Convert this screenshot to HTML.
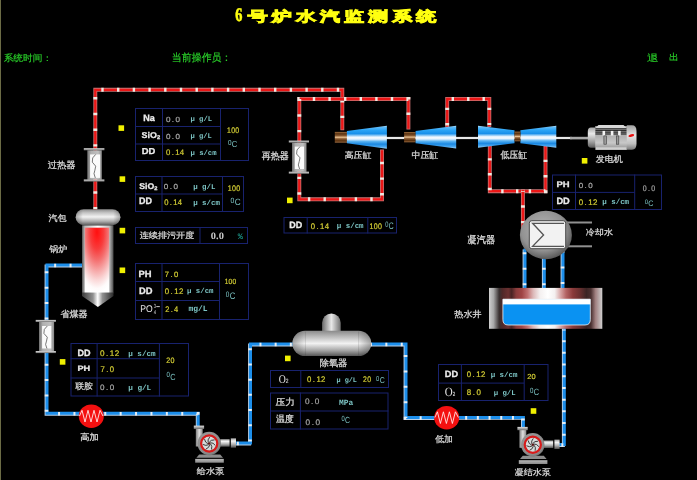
<!DOCTYPE html>
<html><head><meta charset="utf-8"><title>6号炉水汽监测系统</title>
<style>
html,body{margin:0;padding:0;background:#000;width:697px;height:480px;overflow:hidden}
svg{display:block}
text{font-family:'Liberation Sans', sans-serif}
.lab{fill:#d4d4d4;font-size:10px}
.hdr{fill:#22c022;font-size:10px}
.b{fill:#ececec;font-weight:bold;font-size:9.5px}
.m{font-family:'Liberation Mono', monospace;font-size:8.6px}
.g{fill:#9c9c9c}
.y{fill:#e0e030}
.c{fill:#78c4c4}
</style></head><body>
<svg width="697" height="480" viewBox="0 0 697 480" style="will-change:transform;text-rendering:geometricPrecision">
<defs>
<linearGradient id="metalV" x1="0" y1="0" x2="0" y2="1">
 <stop offset="0" stop-color="#a0a0a0"/><stop offset="0.3" stop-color="#f4f4f4"/><stop offset="0.65" stop-color="#b0b0b0"/><stop offset="1" stop-color="#505050"/>
</linearGradient>
<linearGradient id="metalH" x1="0" y1="0" x2="1" y2="0">
 <stop offset="0" stop-color="#6a6a6a"/><stop offset="0.45" stop-color="#f4f4f4"/><stop offset="1" stop-color="#707070"/>
</linearGradient>
<linearGradient id="exH" x1="0" y1="0" x2="1" y2="0">
 <stop offset="0" stop-color="#7a7a7a"/><stop offset="0.45" stop-color="#ffffff"/><stop offset="1" stop-color="#8a8a8a"/>
</linearGradient>
<linearGradient id="frameH" x1="0" y1="0" x2="1" y2="0">
 <stop offset="0" stop-color="#707070"/><stop offset="0.25" stop-color="#b0b0b0"/><stop offset="0.75" stop-color="#c0c0c0"/><stop offset="1" stop-color="#8a8a8a"/>
</linearGradient>
<linearGradient id="neckH" x1="0" y1="0" x2="1" y2="0">
 <stop offset="0" stop-color="#808080"/><stop offset="0.5" stop-color="#e0e0e0"/><stop offset="1" stop-color="#8a8a8a"/>
</linearGradient>
<linearGradient id="baseV" x1="0" y1="0" x2="0" y2="1">
 <stop offset="0" stop-color="#b8b8b8"/><stop offset="1" stop-color="#8a8a8a"/>
</linearGradient>
<linearGradient id="deaV" x1="0" y1="0" x2="0" y2="1">
 <stop offset="0" stop-color="#8a8a8a"/><stop offset="0.2" stop-color="#b4b4b4"/><stop offset="0.5" stop-color="#f2f2f2"/><stop offset="0.78" stop-color="#a4a4a4"/><stop offset="1" stop-color="#555555"/>
</linearGradient>
<linearGradient id="endsH" x1="0" y1="0" x2="1" y2="0">
 <stop offset="0" stop-color="#000" stop-opacity="0.3"/><stop offset="0.16" stop-color="#000" stop-opacity="0"/><stop offset="0.84" stop-color="#000" stop-opacity="0"/><stop offset="1" stop-color="#000" stop-opacity="0.3"/>
</linearGradient>
<linearGradient id="domeH" x1="0" y1="0" x2="1" y2="0">
 <stop offset="0" stop-color="#6a6a6a"/><stop offset="0.5" stop-color="#e8e8e8"/><stop offset="1" stop-color="#707070"/>
</linearGradient>
<linearGradient id="flange" x1="0" y1="0" x2="0" y2="1">
 <stop offset="0" stop-color="#e0e0e0"/><stop offset="1" stop-color="#707070"/>
</linearGradient>
<linearGradient id="cone" x1="0" y1="0" x2="0" y2="1">
 <stop offset="0" stop-color="#b0e0fa"/><stop offset="0.08" stop-color="#58b8f8"/><stop offset="0.2" stop-color="#2aa4f6"/><stop offset="0.35" stop-color="#1890ea"/><stop offset="0.5" stop-color="#f4faff"/><stop offset="0.58" stop-color="#e8f4fe"/><stop offset="0.68" stop-color="#5cb4f2"/><stop offset="0.8" stop-color="#1a88e2"/><stop offset="0.92" stop-color="#4aa8f0"/><stop offset="1" stop-color="#a8d8f8"/>
</linearGradient>
<linearGradient id="brown" x1="0" y1="0" x2="0" y2="1">
 <stop offset="0" stop-color="#a07040"/><stop offset="0.17" stop-color="#5a3210"/><stop offset="0.36" stop-color="#8a5a30"/><stop offset="0.5" stop-color="#e8c090"/><stop offset="0.64" stop-color="#8a5a30"/><stop offset="0.83" stop-color="#5a3210"/><stop offset="1" stop-color="#9a6a40"/>
</linearGradient>
<radialGradient id="boilerRed" gradientUnits="userSpaceOnUse" cx="97" cy="232" r="24" fx="97" fy="232" gradientTransform="translate(97,232) scale(1,2.55) translate(-97,-232)">
 <stop offset="0" stop-color="#ff1010"/><stop offset="0.12" stop-color="#ff2020"/><stop offset="0.28" stop-color="#f83c3c"/><stop offset="0.45" stop-color="#f46c6c"/><stop offset="0.62" stop-color="#f6a4a4"/><stop offset="0.78" stop-color="#fad6d6"/><stop offset="0.92" stop-color="#fefafa"/><stop offset="1" stop-color="#ffffff"/>
</radialGradient>
<linearGradient id="vesselH" x1="0" y1="0" x2="1" y2="0">
 <stop offset="0" stop-color="#555555"/><stop offset="0.09" stop-color="#b8b8b8"/><stop offset="0.5" stop-color="#ffffff"/><stop offset="0.86" stop-color="#c0c0c0"/><stop offset="1" stop-color="#4a4a4a"/>
</linearGradient>
<linearGradient id="coneG" x1="0" y1="0" x2="1" y2="0">
 <stop offset="0" stop-color="#3a3a3a"/><stop offset="0.35" stop-color="#909090"/><stop offset="0.5" stop-color="#ffffff"/><stop offset="0.65" stop-color="#909090"/><stop offset="1" stop-color="#2a2a2a"/>
</linearGradient>
<linearGradient id="drumV" x1="0" y1="0" x2="0" y2="1">
 <stop offset="0" stop-color="#8c8c8c"/><stop offset="0.22" stop-color="#c4c4c4"/><stop offset="0.48" stop-color="#f2f2f2"/><stop offset="0.75" stop-color="#b0b0b0"/><stop offset="1" stop-color="#5a5a5a"/>
</linearGradient>
<radialGradient id="condG" cx="0.45" cy="0.4" r="0.6">
 <stop offset="0" stop-color="#b8b8b8"/><stop offset="0.7" stop-color="#929292"/><stop offset="1" stop-color="#5a5a5a"/>
</radialGradient>
<linearGradient id="hotwell" x1="0" y1="0" x2="1" y2="0">
<stop offset="0" stop-color="#d0d0d0"/><stop offset="0.04" stop-color="#a8a8a8"/><stop offset="0.09" stop-color="#383030"/><stop offset="0.12" stop-color="#502828"/><stop offset="0.17" stop-color="#6a3030"/><stop offset="0.2" stop-color="#4a2424"/><stop offset="0.24" stop-color="#8a3c3c"/><stop offset="0.29" stop-color="#a04444"/><stop offset="0.34" stop-color="#c07070"/><stop offset="0.39" stop-color="#dcb8b8"/><stop offset="0.45" stop-color="#f4f0f0"/><stop offset="0.52" stop-color="#ffffff"/><stop offset="0.58" stop-color="#f4f0f0"/><stop offset="0.63" stop-color="#d8a8a8"/><stop offset="0.68" stop-color="#b46464"/><stop offset="0.74" stop-color="#8a3a3a"/><stop offset="0.8" stop-color="#6a3030"/><stop offset="0.86" stop-color="#3a2424"/><stop offset="0.9" stop-color="#4a3030"/><stop offset="0.94" stop-color="#a08080"/><stop offset="1" stop-color="#d0d0d0"/>
</linearGradient>
<radialGradient id="pumpG" cx="0.45" cy="0.4" r="0.65">
 <stop offset="0" stop-color="#a8a8a8"/><stop offset="0.8" stop-color="#8a8a8a"/><stop offset="1" stop-color="#6a6a6a"/>
</radialGradient>
<radialGradient id="impG" cx="0.5" cy="0.5" r="0.5">
 <stop offset="0" stop-color="#ffffff"/><stop offset="1" stop-color="#c8c8c8"/>
</radialGradient>
<linearGradient id="genBody" x1="0" y1="0" x2="0" y2="1">
 <stop offset="0" stop-color="#9a9a9a"/><stop offset="0.45" stop-color="#b4b4b4"/><stop offset="0.7" stop-color="#c8c8c8"/><stop offset="1" stop-color="#8a8a8a"/>
</linearGradient>
<linearGradient id="genCap" x1="0" y1="0" x2="0" y2="1">
 <stop offset="0" stop-color="#a0a0a0"/><stop offset="0.4" stop-color="#e4e4e4"/><stop offset="0.75" stop-color="#c0c0c0"/><stop offset="1" stop-color="#7a7a7a"/>
</linearGradient>
<linearGradient id="genG" x1="0" y1="0" x2="0" y2="1">
 <stop offset="0" stop-color="#a8a8a8"/><stop offset="0.3" stop-color="#e8e8e8"/><stop offset="0.7" stop-color="#a0a0a0"/><stop offset="1" stop-color="#5a5a5a"/>
</linearGradient>
</defs>
<rect x="0" y="0" width="697" height="480" fill="#000"/>
<rect x="0" y="0" width="1" height="480" fill="#6b6b45"/>

<path d="M95.3,209 L95.3,89.8 L342.3,89.8 L342.3,128.3" fill="none" stroke="#c87474" stroke-width="3.9" stroke-linejoin="miter" stroke-linecap="square"/>
<path d="M95.3,209 L95.3,89.8 L342.3,89.8 L342.3,128.3" fill="none" stroke="#ec1616" stroke-width="2.3" stroke-linejoin="miter" stroke-linecap="square"/>
<path d="M95.3,209 L95.3,89.8 L342.3,89.8 L342.3,128.3" fill="none" stroke="#efe9e2" stroke-width="3.9" stroke-dasharray="2.4 13.30" stroke-dashoffset="0.4"/>
<path d="M382,151.5 L382,199.3 L299.3,199.3 L299.3,99 L408.4,99 L408.4,127.6" fill="none" stroke="#c87474" stroke-width="3.9" stroke-linejoin="miter" stroke-linecap="square"/>
<path d="M382,151.5 L382,199.3 L299.3,199.3 L299.3,99 L408.4,99 L408.4,127.6" fill="none" stroke="#ec1616" stroke-width="2.3" stroke-linejoin="miter" stroke-linecap="square"/>
<path d="M382,151.5 L382,199.3 L299.3,199.3 L299.3,99 L408.4,99 L408.4,127.6" fill="none" stroke="#efe9e2" stroke-width="3.9" stroke-dasharray="2.4 13.20" stroke-dashoffset="5.3"/>
<path d="M447.2,125.5 L447.2,99 L489.3,99 L489.3,125" fill="none" stroke="#c87474" stroke-width="3.9" stroke-linejoin="miter" stroke-linecap="square"/>
<path d="M447.2,125.5 L447.2,99 L489.3,99 L489.3,125" fill="none" stroke="#ec1616" stroke-width="2.3" stroke-linejoin="miter" stroke-linecap="square"/>
<path d="M447.2,125.5 L447.2,99 L489.3,99 L489.3,125" fill="none" stroke="#efe9e2" stroke-width="3.9" stroke-dasharray="2.4 13.05" stroke-dashoffset="15.45"/>
<path d="M489.8,147.5 L489.8,191.2 L522.9,191.2" fill="none" stroke="#c87474" stroke-width="3.9" stroke-linejoin="miter" stroke-linecap="square"/>
<path d="M489.8,147.5 L489.8,191.2 L522.9,191.2" fill="none" stroke="#ec1616" stroke-width="2.3" stroke-linejoin="miter" stroke-linecap="square"/>
<path d="M489.8,147.5 L489.8,191.2 L522.9,191.2" fill="none" stroke="#efe9e2" stroke-width="3.9" stroke-dasharray="2.4 12.40" stroke-dashoffset="4.1"/>
<path d="M545.5,147.5 L545.5,191.2 L522.9,191.2" fill="none" stroke="#c87474" stroke-width="3.9" stroke-linejoin="miter" stroke-linecap="square"/>
<path d="M545.5,147.5 L545.5,191.2 L522.9,191.2" fill="none" stroke="#ec1616" stroke-width="2.3" stroke-linejoin="miter" stroke-linecap="square"/>
<path d="M545.5,147.5 L545.5,191.2 L522.9,191.2" fill="none" stroke="#efe9e2" stroke-width="3.9" stroke-dasharray="2.4 12.90" stroke-dashoffset="3.1"/>
<path d="M522.9,191.2 L522.9,228" fill="none" stroke="#c87474" stroke-width="3.9" stroke-linejoin="miter" stroke-linecap="square"/>
<path d="M522.9,191.2 L522.9,228" fill="none" stroke="#ec1616" stroke-width="2.3" stroke-linejoin="miter" stroke-linecap="square"/>
<path d="M522.9,191.2 L522.9,228" fill="none" stroke="#efe9e2" stroke-width="3.9" stroke-dasharray="2.4 13.20" stroke-dashoffset="1.5"/>
<path d="M83,265 L47,265 L47,413.3 L198.2,413.3 L198.2,426" transform="translate(-0.9,0.9)" fill="none" stroke="#b8d0e8" stroke-width="3" stroke-linejoin="miter" stroke-linecap="square"/>
<path d="M83,265 L47,265 L47,413.3 L198.2,413.3 L198.2,426" fill="none" stroke="#1c8eea" stroke-width="3" stroke-linejoin="miter" stroke-linecap="square"/>
<path d="M83,265 L47,265 L47,413.3 L198.2,413.3 L198.2,426" transform="translate(-0.45,0.45)" fill="none" stroke="#e8eef2" stroke-width="3.6" stroke-dasharray="2 13.40" stroke-dashoffset="4.4"/>
<path d="M236,443 L250.5,443 L250.5,344 L293,344" transform="translate(-0.9,0.9)" fill="none" stroke="#b8d0e8" stroke-width="3" stroke-linejoin="miter" stroke-linecap="square"/>
<path d="M236,443 L250.5,443 L250.5,344 L293,344" fill="none" stroke="#1c8eea" stroke-width="3" stroke-linejoin="miter" stroke-linecap="square"/>
<path d="M236,443 L250.5,443 L250.5,344 L293,344" transform="translate(-0.45,0.45)" fill="none" stroke="#e8eef2" stroke-width="3.6" stroke-dasharray="2 13.20" stroke-dashoffset="13.9"/>
<path d="M371,344 L406,344 L406,417.5 L434,417.5" transform="translate(-0.9,0.9)" fill="none" stroke="#b8d0e8" stroke-width="3" stroke-linejoin="miter" stroke-linecap="square"/>
<path d="M371,344 L406,344 L406,417.5 L434,417.5" fill="none" stroke="#1c8eea" stroke-width="3" stroke-linejoin="miter" stroke-linecap="square"/>
<path d="M371,344 L406,344 L406,417.5 L434,417.5" transform="translate(-0.45,0.45)" fill="none" stroke="#e8eef2" stroke-width="3.6" stroke-dasharray="2 13.40" stroke-dashoffset="0.6"/>
<path d="M459,417.4 L523.4,417.4 L523.4,427" transform="translate(-0.9,0.9)" fill="none" stroke="#b8d0e8" stroke-width="3" stroke-linejoin="miter" stroke-linecap="square"/>
<path d="M459,417.4 L523.4,417.4 L523.4,427" fill="none" stroke="#1c8eea" stroke-width="3" stroke-linejoin="miter" stroke-linecap="square"/>
<path d="M459,417.4 L523.4,417.4 L523.4,427" transform="translate(-0.45,0.45)" fill="none" stroke="#e8eef2" stroke-width="3.6" stroke-dasharray="2 9.70" stroke-dashoffset="5.1"/>
<path d="M564.3,329 L564.3,444.5 L559,444.5" transform="translate(-0.9,0.9)" fill="none" stroke="#b8d0e8" stroke-width="3" stroke-linejoin="miter" stroke-linecap="square"/>
<path d="M564.3,329 L564.3,444.5 L559,444.5" fill="none" stroke="#1c8eea" stroke-width="3" stroke-linejoin="miter" stroke-linecap="square"/>
<path d="M564.3,329 L564.3,444.5 L559,444.5" transform="translate(-0.45,0.45)" fill="none" stroke="#e8eef2" stroke-width="3.6" stroke-dasharray="2 9.70" stroke-dashoffset="1.0"/>
<path d="M525,250 L525,288" transform="translate(-0.9,0.9)" fill="none" stroke="#b8d0e8" stroke-width="3" stroke-linejoin="miter" stroke-linecap="square"/>
<path d="M525,250 L525,288" fill="none" stroke="#1c8eea" stroke-width="3" stroke-linejoin="miter" stroke-linecap="square"/>
<path d="M525,250 L525,288" transform="translate(-0.45,0.45)" fill="none" stroke="#e8eef2" stroke-width="3.6" stroke-dasharray="2 13.60" stroke-dashoffset="13.9"/>
<path d="M544.3,250 L544.3,288" transform="translate(-0.9,0.9)" fill="none" stroke="#b8d0e8" stroke-width="3" stroke-linejoin="miter" stroke-linecap="square"/>
<path d="M544.3,250 L544.3,288" fill="none" stroke="#1c8eea" stroke-width="3" stroke-linejoin="miter" stroke-linecap="square"/>
<path d="M544.3,250 L544.3,288" transform="translate(-0.45,0.45)" fill="none" stroke="#e8eef2" stroke-width="3.6" stroke-dasharray="2 13.60" stroke-dashoffset="13.9"/>
<path d="M563,250 L563,288" transform="translate(-0.9,0.9)" fill="none" stroke="#b8d0e8" stroke-width="3" stroke-linejoin="miter" stroke-linecap="square"/>
<path d="M563,250 L563,288" fill="none" stroke="#1c8eea" stroke-width="3" stroke-linejoin="miter" stroke-linecap="square"/>
<path d="M563,250 L563,288" transform="translate(-0.45,0.45)" fill="none" stroke="#e8eef2" stroke-width="3.6" stroke-dasharray="2 13.60" stroke-dashoffset="15.2"/>
<rect x="87.3" y="150.2" width="14.5" height="29.4" fill="url(#frameH)"/>
<rect x="90.1" y="154.4" width="10.0" height="23.5" fill="#fbfbfb"/>
<rect x="83.8" y="148.2" width="20.6" height="2.1" fill="url(#flange)"/>
<rect x="83.8" y="179.5" width="20.6" height="2.1" fill="url(#flange)"/>
<path d="M95.70,154.40 L92.70,157.93 L92.30,162.16 L95.70,166.15 L94.90,170.15 L94.00,173.67 L95.30,177.90" fill="none" stroke="#555" stroke-width="0.8"/>
<rect x="292" y="142.6" width="14.5" height="29.2" fill="url(#frameH)"/>
<rect x="294.8" y="146.6" width="9.2" height="22.4" fill="#fbfbfb"/>
<rect x="288.8" y="140.6" width="20.2" height="2.1" fill="url(#flange)"/>
<rect x="288.8" y="171.7" width="20.2" height="2.1" fill="url(#flange)"/>
<path d="M300.00,146.60 L297.00,149.96 L296.60,153.99 L300.00,157.80 L299.20,161.61 L298.30,164.97 L299.60,169.00" fill="none" stroke="#555" stroke-width="0.8"/>
<rect x="39" y="321.9" width="15.1" height="29.2" fill="url(#frameH)"/>
<rect x="42.1" y="326" width="9.2" height="22.5" fill="#fbfbfb"/>
<rect x="35.7" y="319.9" width="20.2" height="2.1" fill="url(#flange)"/>
<rect x="35.7" y="351.0" width="20.2" height="2.1" fill="url(#flange)"/>
<path d="M47.30,326.00 L44.30,329.38 L43.90,333.43 L47.30,337.25 L46.50,341.07 L45.60,344.45 L46.90,348.50" fill="none" stroke="#555" stroke-width="0.8"/>
<rect x="82" y="225.3" width="31.5" height="68" fill="url(#vesselH)"/>
<path d="M82,292.5 L113.5,292.5 L113.5,296 L97.9,307 L82,296 Z" fill="url(#coneG)"/>
<rect x="84.8" y="227.7" width="24.4" height="64.6" fill="url(#boilerRed)"/>
<rect x="75.7" y="209.2" width="44.7" height="16" rx="8" ry="8" fill="url(#drumV)"/>
<rect x="75.7" y="209.2" width="44.7" height="16" rx="8" ry="8" fill="url(#endsH)"/>
<rect x="386" y="136.9" width="186" height="2.2" fill="#e8e8e8"/>
<rect x="334.8" y="131.9" width="12.2" height="10.8" fill="url(#brown)"/>
<path d="M346.9,131.1 L386.9,125.64999999999999 L386.9,148.75 L346.9,143.29999999999998 Z" fill="url(#cone)"/>
<rect x="404.1" y="132" width="11.5" height="10.3" fill="url(#brown)"/>
<path d="M415.6,131.0 L456.2,125.64999999999999 L456.2,148.54999999999998 L415.6,143.2 Z" fill="url(#cone)"/>
<path d="M514.5,130.35000000000002 L478,125.80000000000001 L478,147.8 L514.5,143.25 Z" fill="url(#cone)"/>
<path d="M520.4,130.35000000000002 L556.3,125.80000000000001 L556.3,147.8 L520.4,143.25 Z" fill="url(#cone)"/>
<rect x="514.5" y="131.6" width="5.9" height="9.7" fill="url(#brown)"/>
<rect x="570" y="136.8" width="18" height="2.6" fill="#a8a8a8"/>
<path d="M591,127.6 L596,127.6 L596,147.8 L591,147.8 Q587.8,147.8 587.8,144 L587.8,131.4 Q587.8,127.6 591,127.6 Z" fill="url(#genG)"/>
<rect x="595.2" y="126" width="31.8" height="24" fill="url(#genBody)"/>
<path d="M595.5,128 L598.5,124.9 L623.5,124.9 L626.5,128 Z" fill="#d8d8d8"/>
<rect x="595.5" y="128" width="31" height="6.8" fill="#8a8a8a"/>
<line x1="595.5" y1="128.8" x2="626.5" y2="128.8" stroke="#222" stroke-width="0.9"/>
<line x1="595.5" y1="130.5" x2="626.5" y2="130.5" stroke="#222" stroke-width="0.9"/>
<line x1="595.5" y1="132.2" x2="626.5" y2="132.2" stroke="#222" stroke-width="0.9"/>
<line x1="595.5" y1="134" x2="626.5" y2="134" stroke="#222" stroke-width="0.9"/>
<rect x="596" y="147.3" width="30.5" height="2.4" fill="#d0d0d0"/>
<rect x="602.5" y="130.9" width="2.6" height="4.6" fill="#f4f4f4"/>
<rect x="610.8" y="130.9" width="2.6" height="4.6" fill="#f4f4f4"/>
<rect x="618.1" y="130.9" width="2.6" height="4.6" fill="#f4f4f4"/>
<rect x="603.9" y="135.9" width="2.5" height="8.3" fill="#9a9a9a" stroke="#3a3a3a" stroke-width="0.6"/>
<rect x="616.3" y="135.9" width="2.5" height="8.3" fill="#9a9a9a" stroke="#3a3a3a" stroke-width="0.6"/>
<path d="M626.8,125.3 L632,125.3 Q636.5,125.3 636.5,131 L636.5,144 Q636.5,149.7 632,149.7 L626.8,149.7 Z" fill="url(#genCap)"/>
<ellipse cx="631.3" cy="135.5" rx="3" ry="1.3" fill="#e81010" transform="rotate(-15 631.3 135.5)"/>
<line x1="565" y1="222.5" x2="592" y2="222.5" stroke="#909090" stroke-width="2"/>
<line x1="565" y1="246.3" x2="592" y2="246.3" stroke="#909090" stroke-width="2"/>
<ellipse cx="545.9" cy="235" rx="26" ry="24.2" fill="url(#condG)"/>
<rect x="529.3" y="220.7" width="36.4" height="28" rx="2.5" ry="2.5" fill="#f2f2f2" stroke="#4a4a4a" stroke-width="1"/>
<path d="M564,223.3 L532.6,223.3 L543.6,235 L532.6,246.4 L564,246.4" fill="none" stroke="#555555" stroke-width="1.3" stroke-linejoin="miter"/>
<rect x="489" y="287.9" width="113.3" height="40.9" fill="url(#hotwell)"/>
<path d="M502.9,299.2 L590.3,299.2 L590.3,319.7 Q590.3,325 585,325 L508.2,325 Q502.9,325 502.9,319.7 Z" fill="#0a92f2" stroke="#f0f0f0" stroke-width="0.8"/>
<rect x="502.9" y="299.2" width="87.4" height="5.2" fill="#ffffff"/>
<path d="M322.1,331 L322.1,322.8 A9.3,9.3 0 0 1 340.7,322.8 L340.7,331 Z" fill="url(#domeH)"/>
<rect x="292.4" y="330.8" width="78.8" height="25.3" rx="12.65" ry="12.65" fill="url(#deaV)"/>
<rect x="292.4" y="330.8" width="78.8" height="25.3" rx="12.65" ry="12.65" fill="url(#endsH)"/>
<line x1="305.4" y1="331.5" x2="305.4" y2="355.5" stroke="#000" stroke-opacity="0.12" stroke-width="1"/>
<line x1="358.6" y1="331.5" x2="358.6" y2="355.5" stroke="#000" stroke-opacity="0.12" stroke-width="1"/>
<ellipse cx="91.3" cy="416.2" rx="12.5" ry="11.8" fill="#f41010"/>
<polyline points="79.50,416.00 82.00,410.30 85.00,422.00 88.00,410.30 91.00,422.00 94.00,410.30 97.00,422.00 100.00,410.30 103.00,416.00" fill="none" stroke="#ffe8e8" stroke-width="0.9" stroke-linejoin="miter"/>
<ellipse cx="446.7" cy="417.7" rx="12.5" ry="11.8" fill="#f41010"/>
<polyline points="434.90,417.50 437.40,411.80 440.40,423.50 443.40,411.80 446.40,423.50 449.40,411.80 452.40,423.50 455.40,411.80 458.40,417.50" fill="none" stroke="#ffe8e8" stroke-width="0.9" stroke-linejoin="miter"/>
<g transform="translate(209.2,443.5)"><rect x="-13.4" y="-15" width="6.9" height="18" fill="url(#neckH)"/><rect x="-15.4" y="-17.9" width="10.3" height="3.3" fill="url(#flange)"/><path d="M-10,11 L11,11 L13.8,14.2 L-12.8,14.2 Z" fill="#8c8c8c"/><rect x="-14" y="15.4" width="28.6" height="3.8" fill="url(#baseV)"/><rect x="11" y="-4.3" width="9.4" height="7.5" fill="url(#metalV)"/><rect x="21.6" y="-5.2" width="5.2" height="9.4" fill="url(#metalV)"/><circle cx="0" cy="0" r="11.7" fill="url(#pumpG)"/><circle cx="0" cy="0" r="7.2" fill="#d6dada"/><circle cx="0" cy="0" r="8.1" fill="none" stroke="#d81a1a" stroke-width="2.2"/><path d="M1.34,0.41 Q3.34,2.54 2.32,5.97" fill="none" stroke="#2a2a2a" stroke-width="0.9"/><path d="M0.51,1.30 Q0.10,4.20 -3.22,5.53" fill="none" stroke="#2a2a2a" stroke-width="0.9"/><path d="M-0.70,1.21 Q-3.22,2.69 -6.33,0.93" fill="none" stroke="#2a2a2a" stroke-width="0.9"/><path d="M-1.38,0.21 Q-4.12,-0.84 -4.68,-4.37" fill="none" stroke="#2a2a2a" stroke-width="0.9"/><path d="M-1.03,-0.95 Q-1.91,-3.74 0.50,-6.38" fill="none" stroke="#2a2a2a" stroke-width="0.9"/><path d="M0.11,-1.40 Q1.73,-3.83 5.30,-3.59" fill="none" stroke="#2a2a2a" stroke-width="0.9"/><path d="M1.16,-0.79 Q4.07,-1.03 6.11,1.91" fill="none" stroke="#2a2a2a" stroke-width="0.9"/><circle cx="0" cy="0" r="1.3" fill="#5a1a1a"/></g>
<g transform="translate(532.8,444.8)"><rect x="-13.4" y="-15" width="6.9" height="18" fill="url(#neckH)"/><rect x="-15.4" y="-17.9" width="10.3" height="3.3" fill="url(#flange)"/><path d="M-10,11 L11,11 L13.8,14.2 L-12.8,14.2 Z" fill="#8c8c8c"/><rect x="-14" y="15.4" width="28.6" height="3.8" fill="url(#baseV)"/><rect x="11" y="-4.3" width="9.4" height="7.5" fill="url(#metalV)"/><rect x="21.6" y="-5.2" width="5.2" height="9.4" fill="url(#metalV)"/><circle cx="0" cy="0" r="11.7" fill="url(#pumpG)"/><circle cx="0" cy="0" r="7.2" fill="#d6dada"/><circle cx="0" cy="0" r="8.1" fill="none" stroke="#d81a1a" stroke-width="2.2"/><path d="M1.34,0.41 Q3.34,2.54 2.32,5.97" fill="none" stroke="#2a2a2a" stroke-width="0.9"/><path d="M0.51,1.30 Q0.10,4.20 -3.22,5.53" fill="none" stroke="#2a2a2a" stroke-width="0.9"/><path d="M-0.70,1.21 Q-3.22,2.69 -6.33,0.93" fill="none" stroke="#2a2a2a" stroke-width="0.9"/><path d="M-1.38,0.21 Q-4.12,-0.84 -4.68,-4.37" fill="none" stroke="#2a2a2a" stroke-width="0.9"/><path d="M-1.03,-0.95 Q-1.91,-3.74 0.50,-6.38" fill="none" stroke="#2a2a2a" stroke-width="0.9"/><path d="M0.11,-1.40 Q1.73,-3.83 5.30,-3.59" fill="none" stroke="#2a2a2a" stroke-width="0.9"/><path d="M1.16,-0.79 Q4.07,-1.03 6.11,1.91" fill="none" stroke="#2a2a2a" stroke-width="0.9"/><circle cx="0" cy="0" r="1.3" fill="#5a1a1a"/></g>
<rect x="118.5" y="125.3" width="5.6" height="5.6" fill="#f0f000"/>
<rect x="119.6" y="176.3" width="5.6" height="5.6" fill="#f0f000"/>
<rect x="119.6" y="227.8" width="5.6" height="5.6" fill="#f0f000"/>
<rect x="119.6" y="267.5" width="5.6" height="5.6" fill="#f0f000"/>
<rect x="59.8" y="359.1" width="5.6" height="5.6" fill="#f0f000"/>
<rect x="287" y="197.6" width="5.6" height="5.6" fill="#f0f000"/>
<rect x="285" y="355.6" width="5.6" height="5.6" fill="#f0f000"/>
<rect x="530.7" y="408.2" width="5.6" height="5.6" fill="#f0f000"/>
<rect x="581.8" y="158" width="5.6" height="5.6" fill="#f0f000"/>
<rect x="135.5" y="108.5" width="113" height="52" fill="none" stroke="#18226e" stroke-width="1"/>
<line x1="162.5" y1="108" x2="162.5" y2="161" stroke="#18226e" stroke-width="1"/>
<line x1="220.5" y1="108" x2="220.5" y2="161" stroke="#18226e" stroke-width="1"/>
<line x1="135" y1="126.5" x2="220.5" y2="126.5" stroke="#18226e" stroke-width="1"/>
<line x1="135" y1="144" x2="220.5" y2="144" stroke="#18226e" stroke-width="1"/>
<rect x="135.5" y="176.5" width="108" height="35" fill="none" stroke="#18226e" stroke-width="1"/>
<line x1="162" y1="176" x2="162" y2="212" stroke="#18226e" stroke-width="1"/>
<line x1="222.5" y1="176" x2="222.5" y2="212" stroke="#18226e" stroke-width="1"/>
<line x1="135" y1="194" x2="222.5" y2="194" stroke="#18226e" stroke-width="1"/>
<rect x="135.5" y="227.5" width="112" height="16" fill="none" stroke="#18226e" stroke-width="1"/>
<line x1="200" y1="227" x2="200" y2="244" stroke="#18226e" stroke-width="1"/>
<rect x="135.5" y="263.5" width="113" height="56" fill="none" stroke="#18226e" stroke-width="1"/>
<line x1="162" y1="263" x2="162" y2="320" stroke="#18226e" stroke-width="1"/>
<line x1="219.5" y1="263" x2="219.5" y2="320" stroke="#18226e" stroke-width="1"/>
<line x1="135" y1="281.5" x2="219.5" y2="281.5" stroke="#18226e" stroke-width="1"/>
<line x1="135" y1="300.5" x2="219.5" y2="300.5" stroke="#18226e" stroke-width="1"/>
<rect x="156.3" y="306.2" width="3.5" height="0.9" fill="#e0e0e0"/>
<rect x="284.0" y="217.5" width="112.5" height="15.5" fill="none" stroke="#18226e" stroke-width="1"/>
<line x1="307.2" y1="217" x2="307.2" y2="233.5" stroke="#18226e" stroke-width="1"/>
<line x1="367.8" y1="217" x2="367.8" y2="233.5" stroke="#18226e" stroke-width="1"/>
<rect x="552.5" y="175.0" width="109" height="34.5" fill="none" stroke="#18226e" stroke-width="1"/>
<line x1="575.5" y1="174.5" x2="575.5" y2="210" stroke="#18226e" stroke-width="1"/>
<line x1="634.7" y1="174.5" x2="634.7" y2="210" stroke="#18226e" stroke-width="1"/>
<line x1="552" y1="192.4" x2="634.7" y2="192.4" stroke="#18226e" stroke-width="1"/>
<rect x="270.5" y="370.5" width="118" height="17" fill="none" stroke="#18226e" stroke-width="1"/>
<line x1="300.8" y1="370" x2="300.8" y2="388" stroke="#18226e" stroke-width="1"/>
<rect x="270.5" y="393.0" width="117.5" height="36.0" fill="none" stroke="#18226e" stroke-width="1"/>
<line x1="300.4" y1="392.5" x2="300.4" y2="429.5" stroke="#18226e" stroke-width="1"/>
<line x1="270" y1="411" x2="388.5" y2="411" stroke="#18226e" stroke-width="1"/>
<rect x="438.5" y="364.5" width="109.5" height="36" fill="none" stroke="#18226e" stroke-width="1"/>
<line x1="461.4" y1="364" x2="461.4" y2="401" stroke="#18226e" stroke-width="1"/>
<line x1="524.2" y1="364" x2="524.2" y2="401" stroke="#18226e" stroke-width="1"/>
<line x1="438" y1="383.1" x2="524.2" y2="383.1" stroke="#18226e" stroke-width="1"/>
<rect x="71.0" y="343.5" width="117.5" height="52.5" fill="none" stroke="#18226e" stroke-width="1"/>
<line x1="97.1" y1="343" x2="97.1" y2="396.5" stroke="#18226e" stroke-width="1"/>
<line x1="159.4" y1="343" x2="159.4" y2="396.5" stroke="#18226e" stroke-width="1"/>
<line x1="70.5" y1="358.7" x2="159.4" y2="358.7" stroke="#18226e" stroke-width="1"/>
<line x1="70.5" y1="378" x2="159.4" y2="378" stroke="#18226e" stroke-width="1"/>
<text transform="translate(247.70,20.6) scale(1.25,0.86)" style="font-size:16px;font-weight:bold" fill="#ffff10" stroke="#ffff10" stroke-width="1">号</text>
<text transform="translate(271.79,20.6) scale(1.25,0.86)" style="font-size:16px;font-weight:bold" fill="#ffff10" stroke="#ffff10" stroke-width="1">炉</text>
<text transform="translate(295.88,20.6) scale(1.25,0.86)" style="font-size:16px;font-weight:bold" fill="#ffff10" stroke="#ffff10" stroke-width="1">水</text>
<text transform="translate(319.97,20.6) scale(1.25,0.86)" style="font-size:16px;font-weight:bold" fill="#ffff10" stroke="#ffff10" stroke-width="1">汽</text>
<text transform="translate(344.06,20.6) scale(1.25,0.86)" style="font-size:16px;font-weight:bold" fill="#ffff10" stroke="#ffff10" stroke-width="1">监</text>
<text transform="translate(368.15,20.6) scale(1.25,0.86)" style="font-size:16px;font-weight:bold" fill="#ffff10" stroke="#ffff10" stroke-width="1">测</text>
<text transform="translate(392.24,20.6) scale(1.25,0.86)" style="font-size:16px;font-weight:bold" fill="#ffff10" stroke="#ffff10" stroke-width="1">系</text>
<text transform="translate(416.33,20.6) scale(1.25,0.86)" style="font-size:16px;font-weight:bold" fill="#ffff10" stroke="#ffff10" stroke-width="1">统</text>
<text transform="translate(143.22,121.46) scale(0.950,0.971)" style="font-family:'Liberation Sans',sans-serif;font-size:9.5px;font-weight:bold" fill="#ececec" stroke="#ececec" stroke-width="0.3">Na</text>
<text transform="translate(141.60,138.41) scale(0.937,0.888)" style="font-family:'Liberation Sans',sans-serif;font-size:9.5px;font-weight:bold" fill="#ececec" stroke="#ececec" stroke-width="0.3">SiO<tspan style="font-size:6.2px" dy="0.7">2</tspan></text>
<text transform="translate(141.70,154.47) scale(0.992,0.914)" style="font-family:'Liberation Sans',sans-serif;font-size:9.5px;font-weight:bold" fill="#ececec" stroke="#ececec" stroke-width="0.3">DD</text>
<text transform="translate(165.73,121.90) scale(0.938,0.875)" style="font-family:'Liberation Sans',sans-serif;font-size:8.6px" fill="#a4a4a4" stroke="#a4a4a4" stroke-width="0.25"><tspan x="0.19 6.54 10.51">0.0</tspan></text>
<text transform="translate(165.73,138.60) scale(0.938,0.857)" style="font-family:'Liberation Sans',sans-serif;font-size:8.6px" fill="#a4a4a4" stroke="#a4a4a4" stroke-width="0.25"><tspan x="0.19 6.54 10.51">0.0</tspan></text>
<text transform="translate(165.75,155.00) scale(0.900,0.929)" style="font-family:'Liberation Sans',sans-serif;font-size:8.6px" fill="#d2cc34" stroke="#d2cc34" stroke-width="0.25"><tspan x="0.19 6.54 10.51 15.67">0.14</tspan></text>
<text transform="translate(190.45,121.40) scale(0.900,0.900)" style="font-family:'Liberation Mono',monospace;font-size:8px;font-weight:bold" fill="#7cc4c4">μ g/L</text>
<text transform="translate(190.46,138.10) scale(0.887,0.887)" style="font-family:'Liberation Mono',monospace;font-size:8px;font-weight:bold" fill="#7cc4c4">μ g/L</text>
<text transform="translate(190.45,154.60) scale(0.904,0.904)" style="font-family:'Liberation Mono',monospace;font-size:8px;font-weight:bold" fill="#7cc4c4">μ s/cm</text>
<text transform="translate(226.89,132.60) scale(0.807,0.950)" style="font-family:'Liberation Sans',sans-serif;font-size:8.6px" fill="#d2cc34" stroke="#d2cc34" stroke-width="0.25"><tspan x="0.19 5.35 10.51">100</tspan></text>
<text transform="translate(227.97,144.64) scale(0.903,1.048)" style="font-family:'Liberation Sans',sans-serif;font-size:9px" fill="#7cc4c4"><tspan style="font-size:7px">0</tspan><tspan dx="0.4" dy="2.2" style="font-size:8.4px">C</tspan></text>
<text transform="translate(139.20,189.12) scale(0.916,0.875)" style="font-family:'Liberation Sans',sans-serif;font-size:9.5px;font-weight:bold" fill="#ececec" stroke="#ececec" stroke-width="0.3">SiO<tspan style="font-size:6.2px" dy="0.7">2</tspan></text>
<text transform="translate(139.03,204.35) scale(0.946,1.000)" style="font-family:'Liberation Sans',sans-serif;font-size:9.5px;font-weight:bold" fill="#ececec" stroke="#ececec" stroke-width="0.3">DD</text>
<text transform="translate(163.63,189.10) scale(0.945,0.857)" style="font-family:'Liberation Sans',sans-serif;font-size:8.6px" fill="#a4a4a4" stroke="#a4a4a4" stroke-width="0.25"><tspan x="0.19 6.54 10.51">0.0</tspan></text>
<text transform="translate(163.96,205.40) scale(0.885,0.947)" style="font-family:'Liberation Sans',sans-serif;font-size:8.6px" fill="#d2cc34" stroke="#d2cc34" stroke-width="0.25"><tspan x="0.19 6.54 10.51 15.67">0.14</tspan></text>
<text transform="translate(193.14,188.80) scale(0.926,0.926)" style="font-family:'Liberation Mono',monospace;font-size:8px;font-weight:bold" fill="#7cc4c4">μ g/L</text>
<text transform="translate(193.14,205.00) scale(0.929,0.929)" style="font-family:'Liberation Mono',monospace;font-size:8px;font-weight:bold" fill="#7cc4c4">μ s/cm</text>
<text transform="translate(227.68,191.40) scale(0.821,0.950)" style="font-family:'Liberation Sans',sans-serif;font-size:8.6px" fill="#d2cc34" stroke="#d2cc34" stroke-width="0.25"><tspan x="0.19 5.35 10.51">100</tspan></text>
<text transform="translate(230.46,202.65) scale(0.974,1.090)" style="font-family:'Liberation Sans',sans-serif;font-size:9px" fill="#7cc4c4"><tspan style="font-size:7px">0</tspan><tspan dx="0.4" dy="2.2" style="font-size:8.4px">C</tspan></text>
<text transform="translate(139.80,237.77) scale(0.907,0.820)" style="font-family:'Liberation Sans',sans-serif;font-size:10px" fill="#d8d8d8" stroke="#d8d8d8" stroke-width="0.3">连续排污开度</text>
<text transform="translate(210.84,238.65) scale(1.042,0.986)" style="font-family:'Liberation Serif',serif;font-size:10px;font-weight:bold" fill="#c8c8c8">0.0</text>
<text transform="translate(237.70,238.60) scale(1.053,1.053)" style="font-family:'Liberation Mono',monospace;font-size:8px" fill="#22b4a4">%</text>
<text transform="translate(138.41,276.86) scale(0.988,0.943)" style="font-family:'Liberation Sans',sans-serif;font-size:9.5px;font-weight:bold" fill="#ececec" stroke="#ececec" stroke-width="0.3">PH</text>
<text transform="translate(139.11,293.55) scale(0.985,0.986)" style="font-family:'Liberation Sans',sans-serif;font-size:9.5px;font-weight:bold" fill="#ececec" stroke="#ececec" stroke-width="0.3">DD</text>
<text transform="translate(140.15,311.96) scale(0.860,0.979)" style="font-family:'Liberation Sans',sans-serif;font-size:10px" fill="#e8e8e8">PO</text>
<text transform="translate(153.69,308.35) scale(0.421,0.593)" style="font-family:'Liberation Sans',sans-serif;font-size:10px" fill="#d0d0d0">3</text>
<text transform="translate(153.80,313.70) scale(0.420,0.529)" style="font-family:'Liberation Sans',sans-serif;font-size:10px" fill="#d0d0d0">4</text>
<text transform="translate(164.66,276.60) scale(0.888,0.893)" style="font-family:'Liberation Sans',sans-serif;font-size:8.6px" fill="#d2cc34" stroke="#d2cc34" stroke-width="0.25"><tspan x="0.19 6.54 10.51">7.0</tspan></text>
<text transform="translate(164.64,293.70) scale(0.911,0.947)" style="font-family:'Liberation Sans',sans-serif;font-size:8.6px" fill="#d2cc34" stroke="#d2cc34" stroke-width="0.25"><tspan x="0.19 6.54 10.51 15.67">0.12</tspan></text>
<text transform="translate(164.97,311.60) scale(0.868,0.950)" style="font-family:'Liberation Sans',sans-serif;font-size:8.6px" fill="#d2cc34" stroke="#d2cc34" stroke-width="0.25"><tspan x="0.19 6.54 10.51">2.4</tspan></text>
<text transform="translate(187.04,293.30) scale(0.918,0.918)" style="font-family:'Liberation Mono',monospace;font-size:8px;font-weight:bold" fill="#7cc4c4">μ s/cm</text>
<text transform="translate(188.45,311.20) scale(0.995,0.995)" style="font-family:'Liberation Mono',monospace;font-size:8px;font-weight:bold" fill="#7cc4c4">mg/L</text>
<text transform="translate(224.53,283.50) scale(0.759,0.875)" style="font-family:'Liberation Sans',sans-serif;font-size:8.6px" fill="#d2cc34" stroke="#d2cc34" stroke-width="0.25"><tspan x="0.19 5.35 10.51">100</tspan></text>
<text transform="translate(225.77,296.66) scale(0.923,1.131)" style="font-family:'Liberation Sans',sans-serif;font-size:9px" fill="#7cc4c4"><tspan style="font-size:7px">0</tspan><tspan dx="0.4" dy="2.2" style="font-size:8.4px">C</tspan></text>
<text transform="translate(289.23,228.16) scale(0.946,0.957)" style="font-family:'Liberation Sans',sans-serif;font-size:9.5px;font-weight:bold" fill="#ececec" stroke="#ececec" stroke-width="0.3">DD</text>
<text transform="translate(310.55,228.50) scale(0.900,0.950)" style="font-family:'Liberation Sans',sans-serif;font-size:8.6px" fill="#d2cc34" stroke="#d2cc34" stroke-width="0.25"><tspan x="0.19 6.54 10.51 15.67">0.14</tspan></text>
<text transform="translate(336.73,228.20) scale(0.932,0.932)" style="font-family:'Liberation Mono',monospace;font-size:8px;font-weight:bold" fill="#7cc4c4">μ s/cm</text>
<text transform="translate(369.28,228.50) scale(0.821,0.950)" style="font-family:'Liberation Sans',sans-serif;font-size:8.6px" fill="#d2cc34" stroke="#d2cc34" stroke-width="0.25"><tspan x="0.19 5.35 10.51">100</tspan></text>
<text transform="translate(385.20,226.56) scale(0.810,1.131)" style="font-family:'Liberation Sans',sans-serif;font-size:9px" fill="#7cc4c4"><tspan style="font-size:7px">0</tspan><tspan dx="0.4" dy="2.2" style="font-size:8.4px">C</tspan></text>
<text transform="translate(556.40,187.39) scale(0.996,0.857)" style="font-family:'Liberation Sans',sans-serif;font-size:9.5px;font-weight:bold" fill="#ececec" stroke="#ececec" stroke-width="0.3">PH</text>
<text transform="translate(556.41,204.36) scale(0.977,0.957)" style="font-family:'Liberation Sans',sans-serif;font-size:9.5px;font-weight:bold" fill="#ececec" stroke="#ececec" stroke-width="0.3">DD</text>
<text transform="translate(578.53,187.60) scale(0.931,0.857)" style="font-family:'Liberation Sans',sans-serif;font-size:8.6px" fill="#a4a4a4" stroke="#a4a4a4" stroke-width="0.25"><tspan x="0.19 6.54 10.51">0.0</tspan></text>
<text transform="translate(578.54,204.50) scale(0.922,0.950)" style="font-family:'Liberation Sans',sans-serif;font-size:8.6px" fill="#d2cc34" stroke="#d2cc34" stroke-width="0.25"><tspan x="0.19 6.54 10.51 15.67">0.12</tspan></text>
<text transform="translate(602.23,204.20) scale(0.932,0.932)" style="font-family:'Liberation Mono',monospace;font-size:8px;font-weight:bold" fill="#7cc4c4">μ s/cm</text>
<text transform="translate(642.59,190.70) scale(0.814,0.929)" style="font-family:'Liberation Sans',sans-serif;font-size:8.6px" fill="#a4a4a4" stroke="#a4a4a4" stroke-width="0.25"><tspan x="0.19 6.54 10.51">0.0</tspan></text>
<text transform="translate(644.69,203.69) scale(0.851,0.938)" style="font-family:'Liberation Sans',sans-serif;font-size:9px" fill="#7cc4c4"><tspan style="font-size:7px">0</tspan><tspan dx="0.4" dy="2.2" style="font-size:8.4px">C</tspan></text>
<text transform="translate(278.69,382.95) scale(0.813,0.982)" style="font-family:'Liberation Serif',serif;font-size:12px" fill="#e4e4e4">O</text>
<text transform="translate(285.62,383.02) scale(0.565,0.723)" style="font-family:'Liberation Sans',sans-serif;font-size:8.6px" fill="#d0d0d0" stroke="#d0d0d0" stroke-width="0.25"><tspan x="0.19">2</tspan></text>
<text transform="translate(306.95,382.40) scale(0.901,0.950)" style="font-family:'Liberation Sans',sans-serif;font-size:8.6px" fill="#d2cc34" stroke="#d2cc34" stroke-width="0.25"><tspan x="0.19 6.54 10.51 15.67">0.12</tspan></text>
<text transform="translate(336.58,382.00) scale(0.848,0.848)" style="font-family:'Liberation Mono',monospace;font-size:8px;font-weight:bold" fill="#7cc4c4">μ g/L</text>
<text transform="translate(362.90,382.40) scale(0.800,0.950)" style="font-family:'Liberation Sans',sans-serif;font-size:8.6px" fill="#d2cc34" stroke="#d2cc34" stroke-width="0.25"><tspan x="0.19 5.35">20</tspan></text>
<text transform="translate(376.09,380.93) scale(0.831,1.007)" style="font-family:'Liberation Sans',sans-serif;font-size:9px" fill="#7cc4c4"><tspan style="font-size:7px">0</tspan><tspan dx="0.4" dy="2.2" style="font-size:8.4px">C</tspan></text>
<text transform="translate(275.50,404.55) scale(0.965,0.900)" style="font-family:'Liberation Sans',sans-serif;font-size:10px" fill="#d8d8d8" stroke="#d8d8d8" stroke-width="0.3">压力</text>
<text transform="translate(275.90,422.15) scale(0.896,0.923)" style="font-family:'Liberation Sans',sans-serif;font-size:10px" fill="#d8d8d8" stroke="#d8d8d8" stroke-width="0.3">温度</text>
<text transform="translate(304.72,404.20) scale(0.952,0.929)" style="font-family:'Liberation Sans',sans-serif;font-size:8.6px" fill="#a4a4a4" stroke="#a4a4a4" stroke-width="0.25"><tspan x="0.19 6.54 10.51">0.0</tspan></text>
<text transform="translate(305.42,425.40) scale(0.959,0.950)" style="font-family:'Liberation Sans',sans-serif;font-size:8.6px" fill="#a4a4a4" stroke="#a4a4a4" stroke-width="0.25"><tspan x="0.19 6.54 10.51">0.0</tspan></text>
<text transform="translate(338.95,405.30) scale(0.986,0.990)" style="font-family:'Liberation Mono',monospace;font-size:8px;font-weight:bold" fill="#7cc4c4">MPa</text>
<text transform="translate(341.59,420.91) scale(0.821,1.062)" style="font-family:'Liberation Sans',sans-serif;font-size:9px" fill="#7cc4c4"><tspan style="font-size:7px">0</tspan><tspan dx="0.4" dy="2.2" style="font-size:8.4px">C</tspan></text>
<text transform="translate(444.82,376.86) scale(0.969,0.943)" style="font-family:'Liberation Sans',sans-serif;font-size:9.5px;font-weight:bold" fill="#ececec" stroke="#ececec" stroke-width="0.3">DD</text>
<text transform="translate(444.84,395.54) scale(0.916,1.055)" style="font-family:'Liberation Serif',serif;font-size:12px" fill="#e4e4e4">O</text>
<text transform="translate(452.64,395.63) scale(0.518,0.692)" style="font-family:'Liberation Sans',sans-serif;font-size:8.6px" fill="#d0d0d0" stroke="#d0d0d0" stroke-width="0.25"><tspan x="0.19">2</tspan></text>
<text transform="translate(466.64,376.80) scale(0.911,0.950)" style="font-family:'Liberation Sans',sans-serif;font-size:8.6px" fill="#d2cc34" stroke="#d2cc34" stroke-width="0.25"><tspan x="0.19 6.54 10.51 15.67">0.12</tspan></text>
<text transform="translate(466.64,395.20) scale(0.929,0.950)" style="font-family:'Liberation Sans',sans-serif;font-size:8.6px" fill="#d2cc34" stroke="#d2cc34" stroke-width="0.25"><tspan x="0.19 6.54 10.51">8.0</tspan></text>
<text transform="translate(490.64,376.50) scale(0.929,0.929)" style="font-family:'Liberation Mono',monospace;font-size:8px;font-weight:bold" fill="#7cc4c4">μ s/cm</text>
<text transform="translate(493.75,394.80) scale(0.909,0.909)" style="font-family:'Liberation Mono',monospace;font-size:8px;font-weight:bold" fill="#7cc4c4">μ g/L</text>
<text transform="translate(526.97,378.60) scale(0.863,0.840)" style="font-family:'Liberation Sans',sans-serif;font-size:8.6px" fill="#d2cc34" stroke="#d2cc34" stroke-width="0.25"><tspan x="0.19 5.35">20</tspan></text>
<text transform="translate(529.98,392.55) scale(0.872,1.090)" style="font-family:'Liberation Sans',sans-serif;font-size:9px" fill="#7cc4c4"><tspan style="font-size:7px">0</tspan><tspan dx="0.4" dy="2.2" style="font-size:8.4px">C</tspan></text>
<text transform="translate(77.42,356.36) scale(0.954,0.957)" style="font-family:'Liberation Sans',sans-serif;font-size:9.5px;font-weight:bold" fill="#ececec" stroke="#ececec" stroke-width="0.3">DD</text>
<text transform="translate(77.41,371.20) scale(0.971,0.814)" style="font-family:'Liberation Sans',sans-serif;font-size:9.5px;font-weight:bold" fill="#ececec" stroke="#ececec" stroke-width="0.3">PH</text>
<text transform="translate(75.22,389.33) scale(0.885,0.850)" style="font-family:'Liberation Sans',sans-serif;font-size:10px" fill="#d8d8d8" stroke="#d8d8d8" stroke-width="0.3">联胺</text>
<text transform="translate(99.93,356.40) scale(0.947,0.950)" style="font-family:'Liberation Sans',sans-serif;font-size:8.6px" fill="#d2cc34" stroke="#d2cc34" stroke-width="0.25"><tspan x="0.19 6.54 10.51 15.67">0.12</tspan></text>
<text transform="translate(100.35,371.60) scale(0.895,0.950)" style="font-family:'Liberation Sans',sans-serif;font-size:8.6px" fill="#d2cc34" stroke="#d2cc34" stroke-width="0.25"><tspan x="0.19 6.54 10.51">7.0</tspan></text>
<text transform="translate(99.93,389.90) scale(0.938,0.911)" style="font-family:'Liberation Sans',sans-serif;font-size:8.6px" fill="#a4a4a4" stroke="#a4a4a4" stroke-width="0.25"><tspan x="0.19 6.54 10.51">0.0</tspan></text>
<text transform="translate(128.22,356.00) scale(0.950,0.950)" style="font-family:'Liberation Mono',monospace;font-size:8px;font-weight:bold" fill="#7cc4c4">μ s/cm</text>
<text transform="translate(128.22,389.50) scale(0.957,0.957)" style="font-family:'Liberation Mono',monospace;font-size:8px;font-weight:bold" fill="#7cc4c4">μ g/L</text>
<text transform="translate(166.08,362.80) scale(0.832,0.911)" style="font-family:'Liberation Sans',sans-serif;font-size:8.6px" fill="#d2cc34" stroke="#d2cc34" stroke-width="0.25"><tspan x="0.19 5.35">20</tspan></text>
<text transform="translate(166.58,377.21) scale(0.872,1.062)" style="font-family:'Liberation Sans',sans-serif;font-size:9px" fill="#7cc4c4"><tspan style="font-size:7px">0</tspan><tspan dx="0.4" dy="2.2" style="font-size:8.4px">C</tspan></text>
<text transform="translate(47.70,168.31) scale(0.928,0.907)" style="font-family:'Liberation Sans',sans-serif;font-size:10px" fill="#d8d8d8" stroke="#d8d8d8" stroke-width="0.3">过热器</text>
<text transform="translate(48.60,220.88) scale(0.900,0.882)" style="font-family:'Liberation Sans',sans-serif;font-size:10px" fill="#d8d8d8" stroke="#d8d8d8" stroke-width="0.3">汽包</text>
<text transform="translate(49.13,251.81) scale(0.911,0.860)" style="font-family:'Liberation Sans',sans-serif;font-size:10px" fill="#d8d8d8" stroke="#d8d8d8" stroke-width="0.3">锅炉</text>
<text transform="translate(60.40,316.56) scale(0.904,0.890)" style="font-family:'Liberation Sans',sans-serif;font-size:10px" fill="#d8d8d8" stroke="#d8d8d8" stroke-width="0.3">省煤器</text>
<text transform="translate(80.27,439.80) scale(0.932,0.868)" style="font-family:'Liberation Sans',sans-serif;font-size:10px" fill="#d8d8d8" stroke="#d8d8d8" stroke-width="0.3">高加</text>
<text transform="translate(261.70,158.75) scale(0.908,0.940)" style="font-family:'Liberation Sans',sans-serif;font-size:10px" fill="#d8d8d8" stroke="#d8d8d8" stroke-width="0.3">再热器</text>
<text transform="translate(344.68,157.94) scale(0.887,0.839)" style="font-family:'Liberation Sans',sans-serif;font-size:10px" fill="#d8d8d8" stroke="#d8d8d8" stroke-width="0.3">高压缸</text>
<text transform="translate(411.45,158.47) scale(0.895,0.890)" style="font-family:'Liberation Sans',sans-serif;font-size:10px" fill="#d8d8d8" stroke="#d8d8d8" stroke-width="0.3">中压缸</text>
<text transform="translate(500.42,157.79) scale(0.889,0.937)" style="font-family:'Liberation Sans',sans-serif;font-size:10px" fill="#d8d8d8" stroke="#d8d8d8" stroke-width="0.3">低压缸</text>
<text transform="translate(595.70,161.82) scale(0.903,0.862)" style="font-family:'Liberation Sans',sans-serif;font-size:10px" fill="#d8d8d8" stroke="#d8d8d8" stroke-width="0.3">发电机</text>
<text transform="translate(585.77,234.84) scale(0.908,0.840)" style="font-family:'Liberation Sans',sans-serif;font-size:10px" fill="#d8d8d8" stroke="#d8d8d8" stroke-width="0.3">冷却水</text>
<text transform="translate(467.60,243.41) scale(0.914,0.995)" style="font-family:'Liberation Sans',sans-serif;font-size:10px" fill="#d8d8d8" stroke="#d8d8d8" stroke-width="0.3">凝汽器</text>
<text transform="translate(454.30,317.38) scale(0.908,0.868)" style="font-family:'Liberation Sans',sans-serif;font-size:10px" fill="#d8d8d8" stroke="#d8d8d8" stroke-width="0.3">热水井</text>
<text transform="translate(319.67,366.23) scale(0.922,0.913)" style="font-family:'Liberation Sans',sans-serif;font-size:10px" fill="#d8d8d8" stroke="#d8d8d8" stroke-width="0.3">除氧器</text>
<text transform="translate(196.80,474.33) scale(0.924,0.839)" style="font-family:'Liberation Sans',sans-serif;font-size:10px" fill="#d8d8d8" stroke="#d8d8d8" stroke-width="0.3">给水泵</text>
<text transform="translate(435.22,441.98) scale(0.882,0.880)" style="font-family:'Liberation Sans',sans-serif;font-size:10px" fill="#d8d8d8" stroke="#d8d8d8" stroke-width="0.3">低加</text>
<text transform="translate(514.80,474.85) scale(0.903,0.829)" style="font-family:'Liberation Sans',sans-serif;font-size:10px" fill="#d8d8d8" stroke="#d8d8d8" stroke-width="0.3">凝结水泵</text>
<text transform="translate(235.32,20.92) scale(0.716,0.957)" style="font-family:'Liberation Serif',serif;font-size:20px;font-weight:bold" fill="#ffff10" stroke="#ffff10" stroke-width="0.6">6</text>
<text transform="translate(3.66,60.84) scale(0.971,0.910)" style="font-family:'Liberation Serif',serif;font-size:10px" fill="#2ad42a" stroke="#2ad42a" stroke-width="0.15">系统时间：</text>
<text transform="translate(171.86,61.22) scale(0.993,1.056)" style="font-family:'Liberation Serif',serif;font-size:10px" fill="#2ad42a" stroke="#2ad42a" stroke-width="0.15">当前操作员：</text>
<text transform="translate(647.01,60.89) scale(1.146,0.905)" style="font-family:'Liberation Serif',serif;font-size:10px" fill="#2ad42a" stroke="#2ad42a" stroke-width="0.15">退</text>
<text transform="translate(668.92,60.42) scale(0.963,0.876)" style="font-family:'Liberation Serif',serif;font-size:10px" fill="#2ad42a" stroke="#2ad42a" stroke-width="0.15">出</text>
</svg></body></html>
